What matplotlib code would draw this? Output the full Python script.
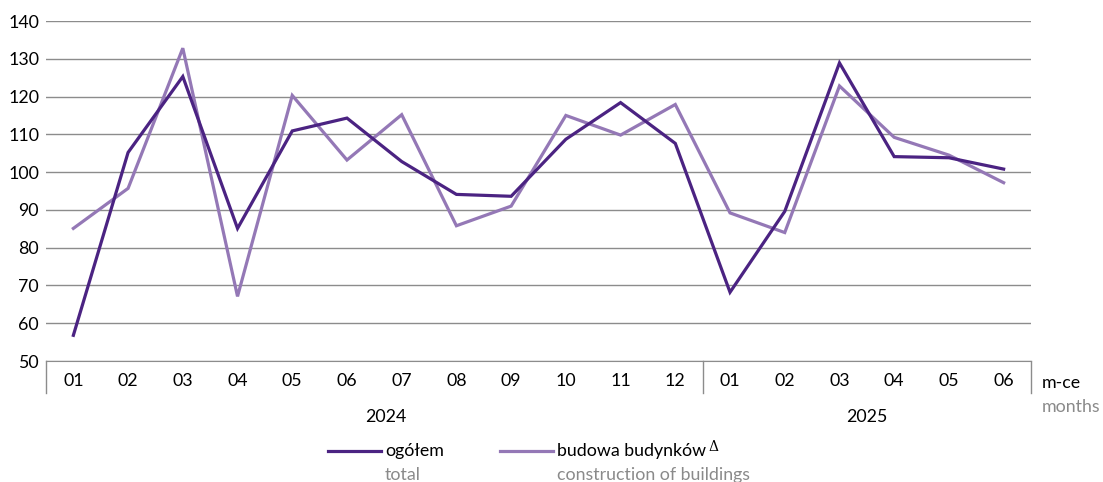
import matplotlib.pyplot as plt
import numpy as np

plt.rcParams['font.family'] = ['Lato', 'DejaVu Sans']

# month labels and years
months = ['01', '02', '03', '04', '05', '06', '07', '08', '09', '10', '11', '12',
          '01', '02', '03', '04', '05', '06']
years = ['2024', '2025']

# indices (previous month = 100)
total = [56.8, 105.2, 125.3, 85.1, 110.9, 114.3, 102.8, 94.1, 93.6, 108.7, 118.4, 107.6,
         68.2, 89.6, 128.9, 104.1, 103.8, 100.8]
buildings = [85.1, 95.7, 132.8, 67.1, 120.3, 103.2, 115.2, 85.8, 91.0, 115.0, 109.8, 117.9,
             89.2, 84.0, 122.8, 109.2, 104.5, 97.2]

dark = '#4b2382'
light = '#9478b6'
grid = '#8c8c8c'
gray_txt = '#8a8a8a'
fs = 12.8

fig = plt.figure(figsize=(11.03, 4.82), dpi=100)
ax = fig.add_axes([46 / 1103, 121 / 482, 985 / 1103, 340 / 482])

x = np.arange(len(months))
ax.plot(x, total, color=dark, lw=2.3, solid_joinstyle='miter', zorder=3)
ax.plot(x, buildings, color=light, lw=2.3, solid_joinstyle='miter', zorder=2)

ax.set_xlim(-0.5, len(months) - 0.5)
ax.set_ylim(50, 140)
ax.set_yticks(range(50, 141, 10))
ax.yaxis.grid(True, color=grid, lw=1)
ax.set_axisbelow(True)
for s in ['left', 'right', 'top']:
    ax.spines[s].set_visible(False)
ax.spines['bottom'].set_color(grid)
ax.tick_params(axis='y', length=0, labelsize=fs, pad=5)
ax.tick_params(axis='x', length=0, labelsize=fs, pad=9)
ax.set_xticks(x)
ax.set_xticklabels(months)

# category box lines below the axis
for xv in [-0.5, 11.5, 17.5]:
    ax.plot([xv, xv], [50, 41.5], color=grid, lw=1, clip_on=False)

ax.text(5.7, 35.3, years[0], ha='center', va='center', fontsize=fs)
ax.text(14.5, 35.3, years[1], ha='center', va='center', fontsize=fs)
ax.text(17.7, 44.3, 'm-ce', ha='left', va='center', fontsize=fs)
ax.text(17.7, 37.9, 'months', ha='left', va='center', fontsize=fs, color=gray_txt)

# legend
fig.add_artist(plt.Line2D([328 / 1103, 381 / 1103], [1 - 451 / 482] * 2, color=dark, lw=2.3))
fig.text(385 / 1103, 1 - 451 / 482, 'ogółem', ha='left', va='center', fontsize=fs)
fig.text(385 / 1103, 1 - 475 / 482, 'total', ha='left', va='center', fontsize=fs, color=gray_txt)
fig.add_artist(plt.Line2D([500 / 1103, 553 / 1103], [1 - 451 / 482] * 2, color=light, lw=2.3))
lab = fig.text(557 / 1103, 1 - 451 / 482, 'budowa budynków', ha='left', va='center', fontsize=fs)
ax.annotate('Δ', xy=(1, 1), xycoords=lab, xytext=(2, -3), textcoords='offset points',
            ha='left', va='center', fontsize=10, family=['DejaVu Serif'])
fig.text(557 / 1103, 1 - 475 / 482, 'construction of buildings', ha='left', va='center',
         fontsize=fs, color=gray_txt)

fig.savefig('out.png', dpi=100)
